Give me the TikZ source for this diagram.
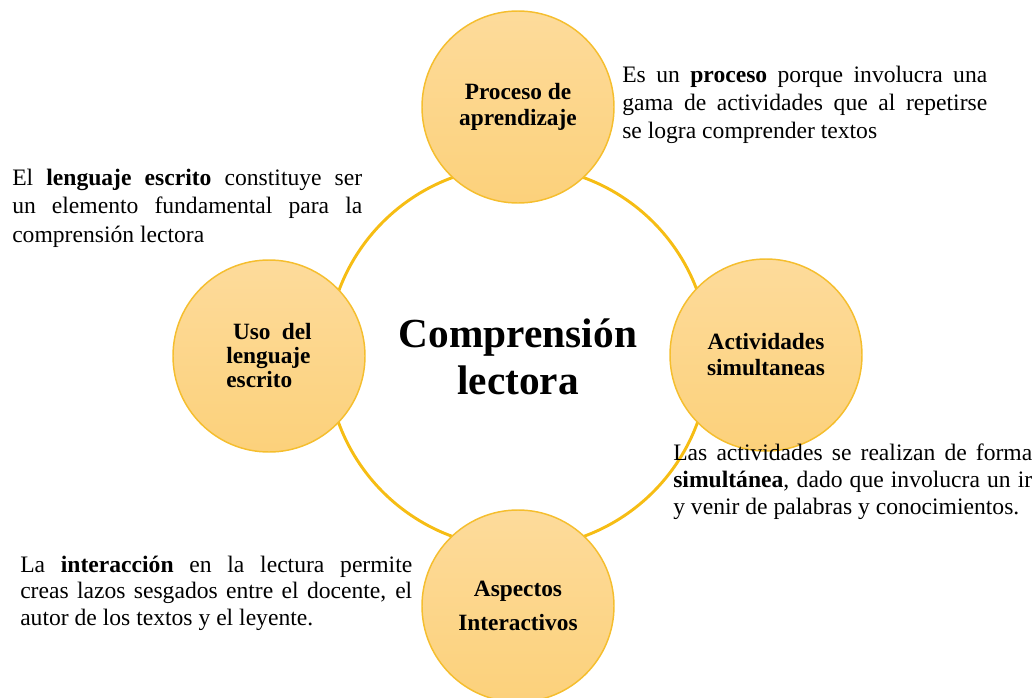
\documentclass[tikz,border=0pt]{standalone}
\usepackage{fontspec}
\setmainfont{Liberation Serif}
\usetikzlibrary{positioning}

\definecolor{ringgold}{HTML}{F6BD14}
\definecolor{discline}{HTML}{F5BE2E}
\definecolor{disctop}{HTML}{FDDB9B}
\definecolor{discbottom}{HTML}{FCD17B}

\begin{document}
\begin{tikzpicture}[
		x=0.75pt, y=-0.75pt,
		hub/.style={circle, draw=ringgold, line width=2.2pt, minimum size=286.5pt, inner sep=0pt, align=center, font=\fontsize{31}{35}\selectfont\bfseries},
		topic/.style={circle, draw=discline, line width=1.1pt, top color=disctop, bottom color=discbottom, minimum size=144pt, inner sep=0pt, align=center, font=\fontsize{17.5}{19}\selectfont\bfseries},
		note/.style={anchor=base west, inner sep=0pt, align=justify, font=\fontsize{17.7}{21}\selectfont}
	]
	\useasboundingbox (0,0) rectangle (1036,697);

		% Ring
		\node[hub] (hub) at (518,357) {Comprensión\\lectora};

		% Circles
		\node[topic] (proceso) at (518,107) {Proceso de\\aprendizaje};
		\node[topic] (actividades) at (766,355) {Actividades\\[0.5pt]simultaneas};
		\node[topic, font=\fontsize{17.5}{25.5}\selectfont\bfseries] (aspectos) at (518,606) {Aspectos\\Interactivos};
		\node[topic, text width=64pt, align=justify, font=\fontsize{17.5}{18}\selectfont\bfseries] (uso) at (269,356) {\hspace*{5pt}Uso del\linebreak lenguaje\linebreak escrito};

		% Notes
		\node[note, text width=273.75pt] (notaproceso) at (622,82) {Es un \textbf{proceso} porque involucra una\linebreak gama de actividades que al repetirse\linebreak se logra comprender textos};
		\node[note, text width=262.5pt, font=\fontsize{17.7}{21.4}\selectfont] (notauso) at (12,185) {El \textbf{lenguaje escrito} constituye ser\linebreak un elemento fundamental para la\linebreak comprensión lectora};
		\node[note, text width=269.25pt, font=\fontsize{17.7}{20.25}\selectfont] (notaactividades) at (673,460) {Las actividades se realizan de forma\linebreak \textbf{simultánea}, dado que involucra un ir\linebreak y venir de palabras y conocimientos.};
		\node[note, text width=294pt, font=\fontsize{17.7}{19.9}\selectfont] (notaaspectos) at (20,572) {La \textbf{interacción} en la lectura permite\linebreak creas lazos sesgados entre el docente, el\linebreak autor de los textos y el leyente.};

	\end{tikzpicture}
\end{document}
